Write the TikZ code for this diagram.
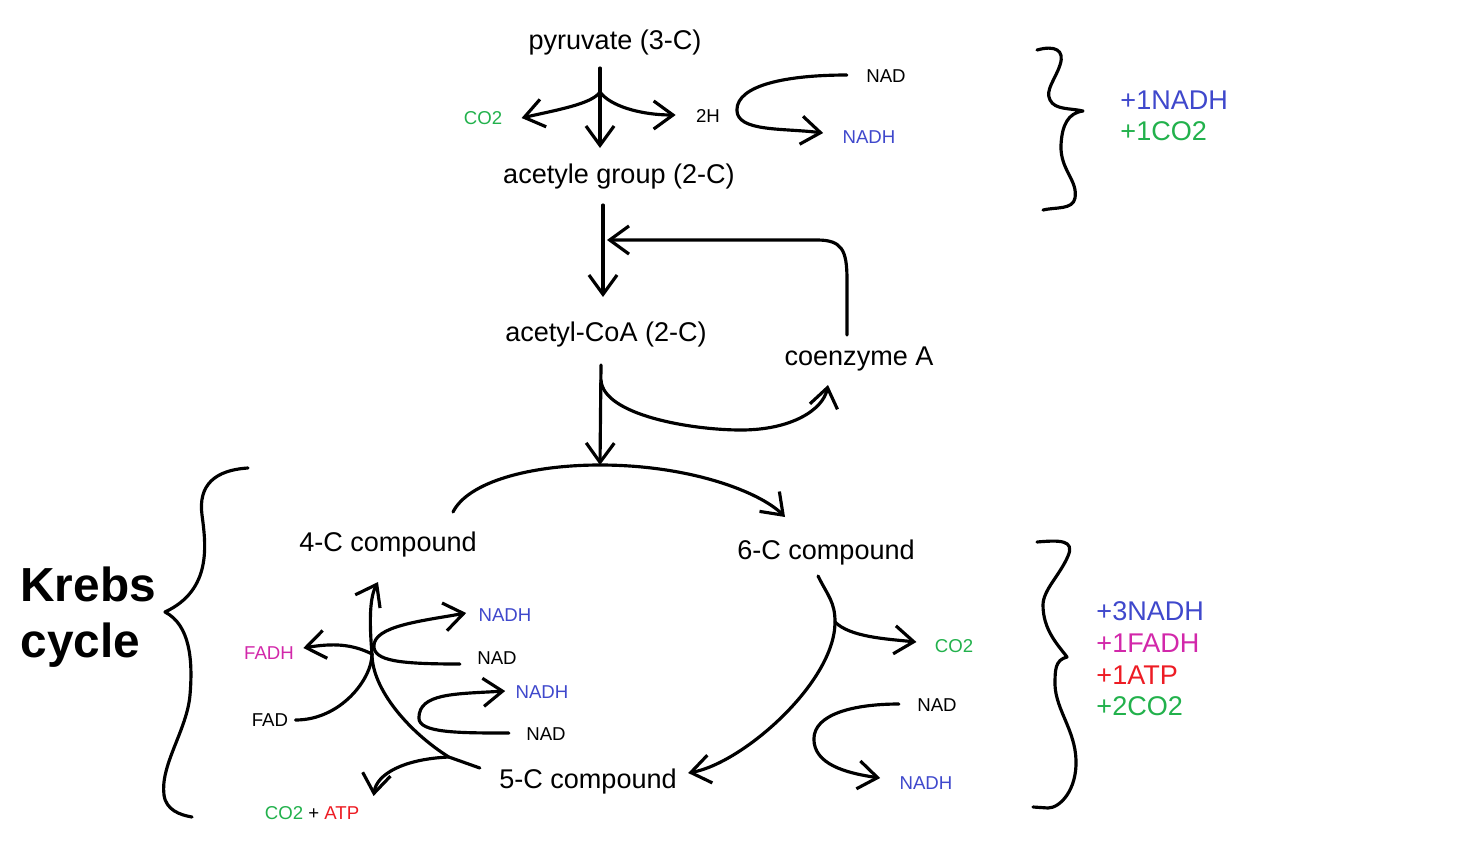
\documentclass[tikz,border=0pt]{standalone}
\usepackage{fontspec}
\setmainfont{Liberation Sans}
\usetikzlibrary{arrows.meta,calc}
\definecolor{nadhblue}{RGB}{63,72,204}
\definecolor{co2green}{RGB}{34,177,76}
\definecolor{atpred}{RGB}{237,28,36}
\definecolor{fadhpink}{RGB}{210,40,170}
\tikzset{
  big/.style={font=\fontsize{15.4}{18}\selectfont},
  small/.style={font=\fontsize{10.6}{13}\selectfont},
  nadh/.style={small,text=nadhblue},
  co2/.style={small,text=co2green},
}
\begin{document}
\begin{tikzpicture}[x=0.02cm,y=-0.02cm,line width=1.8pt,line cap=round,line join=round,>={Straight Barb[length=11pt,width=16pt]}]
\useasboundingbox (0,0) rectangle (1470,849);
\node[big] (pyr) at (615,43) {pyruvate (3-C)};
\node[big] (acgrp) at (619,176) {acetyle group (2-C)};
\node[big] (acoa) at (606,334) {acetyl-CoA (2-C)};
\node[big] (coa) at (859,359) {coenzyme A};
\node[big] (c4) at (388,544) {4-C compound};
\node[big] (c6) at (826,552) {6-C compound};
\node[big] (c5) at (588,781) {5-C compound};
\node[co2] (co2a) at (483,118) {CO2};
\node[small] (h2) at (708,116) {2H};
\node[small] (nada) at (886,76) {NAD};
\node[nadh] (nadha) at (869,137) {NADH};
\node[nadh] (nadhb) at (505,615) {NADH};
\node[small] (nadb) at (497,658) {NAD};
\node[nadh] (nadhc) at (542,692) {NADH};
\node[small] (nadc) at (546,734) {NAD};
\node[small,text=fadhpink] (fadh) at (269,653) {FADH};
\node[small] (fad) at (270,720) {FAD};
\node[small] (co2atp) at (312,813) {\textcolor{co2green}{CO2} + \textcolor{atpred}{ATP}};
\node[co2] (co2b) at (954,646) {CO2};
\node[small] (nadd) at (937,705) {NAD};
\node[nadh] (nadhd) at (926,783) {NADH};
\node[font=\bfseries\fontsize{27.2}{32}\selectfont,align=left,anchor=west] (krebs) at (13,617) {Krebs\\cycle};
\node[big,align=left,anchor=west] (suma) at (1113,116) {\textcolor{nadhblue}{+1NADH}\\\textcolor{co2green}{+1CO2}};
\node[big,align=left,anchor=west] (sumb) at (1089,659) {\textcolor{nadhblue}{+3NADH}\\\textcolor{fadhpink}{+1FADH}\\\textcolor{atpred}{+1ATP}\\\textcolor{co2green}{+2CO2}};
\coordinate (splitA) at ($(pyr)+(-15,49)$);
\draw[->] ($(pyr)+(-15,25)$) -- ($(acgrp)+(-19,-28)$);
\draw[->] (splitA) .. controls +(-8,12) and +(35,-8) .. ($(co2a.east)+(12,0)$);
\draw[->] (splitA) .. controls +(10,14) and +(-35,0) .. ($(h2.west)+(-13,-1)$);
\draw[->] ($(nada.west)+(-12,-1)$) .. controls +(-60,0) and +(0,-25) .. ++(-110,35) .. controls +(0,22) and +(-40,-5) .. ($(nadha.west)+(-12,-4)$);
\draw (1037,50) .. controls (1055,45) and (1065,50) .. (1060,65) .. controls (1055,80) and (1045,90) .. (1050,100) .. controls (1055,110) and (1070,108) .. (1083,111) .. controls (1068,113) and (1062,125) .. (1061,145) .. controls (1060,170) and (1078,180) .. (1075,198) .. controls (1073,210) and (1055,207) .. (1043,210);
\coordinate (joinA) at ($(acgrp)+(-12,64)$);
\draw[->] ($(acgrp)+(-16,29)$) -- ($(acoa)+(-3,-37)$);
\draw[->] ($(coa)+(-12,-24)$) -- ++(0,-55) .. controls +(0,-30) and +(25,0) .. ++(-30,-40) -- (joinA);
\coordinate (cyctop) at ($(acoa)+(-6,131)$);
\draw[->] ($(acoa)+(-5,31)$) -- (cyctop);
\draw[->] ($(acoa)+(-5,46)$) .. controls +(2,35) and +(-50,0) .. ++(140,50) .. controls +(50,0) and +(-5,25) .. ($(coa)+(-31,26)$);
\draw[->] ($(c4)+(65,-32)$) .. controls +(15,-30) and +(-70,0) .. (cyctop) .. controls +(90,0) and +(-25,-25) .. ($(c6)+(-41,-35)$);
\coordinate (splitB) at ($(c6)+(9,70)$);
\draw[->] ($(c6)+(-8,24)$) .. controls +(10,20) and +(0,-20) .. (splitB) .. controls +(0,60) and +(55,-10) .. ($(c5.east)+(4,-8)$);
\draw[->] (splitB) .. controls +(15,15) and +(-30,-3) .. ($(co2b.west)+(-11,-4)$);
\draw[->] ($(nadd.west)+(-11,-1)$) .. controls +(-45,0) and +(0,-25) .. ++(-85,35) .. controls +(0,25) and +(-35,-5) .. ($(nadhd.west)+(-12,-5)$);
\coordinate (splitC) at ($(c5.west)+(-43,-24)$);
\coordinate (splitD) at ($(c4)+(-16,110)$);
\draw[->] ($(c5.west)+(-12,-13)$) -- (splitC) .. controls +(-40,-25) and +(0,35) .. (splitD) .. controls +(-3,-35) and +(-8,15) .. ($(c4)+(-10,38)$);
\draw (fad.east) .. controls +(45,0) and +(0,25) .. (splitD);
\draw[->] (splitD) .. controls +(-20,-10) and +(30,-5) .. ($(fadh.east)+(2,-5)$);
\draw[->] ($(nadb.west)+(-10,6)$) .. controls +(-60,0) and +(0,15) .. ++(-86,-18) .. controls +(0,-20) and +(-45,8) .. ($(nadhb.west)+(-5,-2)$);
\draw[->] ($(nadc.west)+(-10,-1)$) .. controls +(-50,0) and +(0,15) .. ++(-90,-15) .. controls +(0,-25) and +(-50,3) .. ($(nadhc.west)+(-3,-1)$);
\draw[->] (splitC) .. controls +(-45,2) and +(3,-22) .. ($(co2atp.north east)+(7,-3)$);
\draw (1037,542) .. controls (1060,540) and (1075,540) .. (1068,556) .. controls (1060,575) and (1043,590) .. (1043,605) .. controls (1043,630) and (1058,645) .. (1067,657) .. controls (1055,660) and (1055,670) .. (1055,685) .. controls (1056,710) and (1075,730) .. (1076,760) .. controls (1077,790) and (1060,808) .. (1048,808) -- (1033,807);
\draw (248,468) .. controls (215,470) and (198,485) .. (202,515) .. controls (206,545) and (212,590) .. (165,612) .. controls (190,625) and (193,660) .. (190,695) .. controls (187,730) and (160,765) .. (164,795) .. controls (166,810) and (180,815) .. (192,817);
\end{tikzpicture}
\end{document}
